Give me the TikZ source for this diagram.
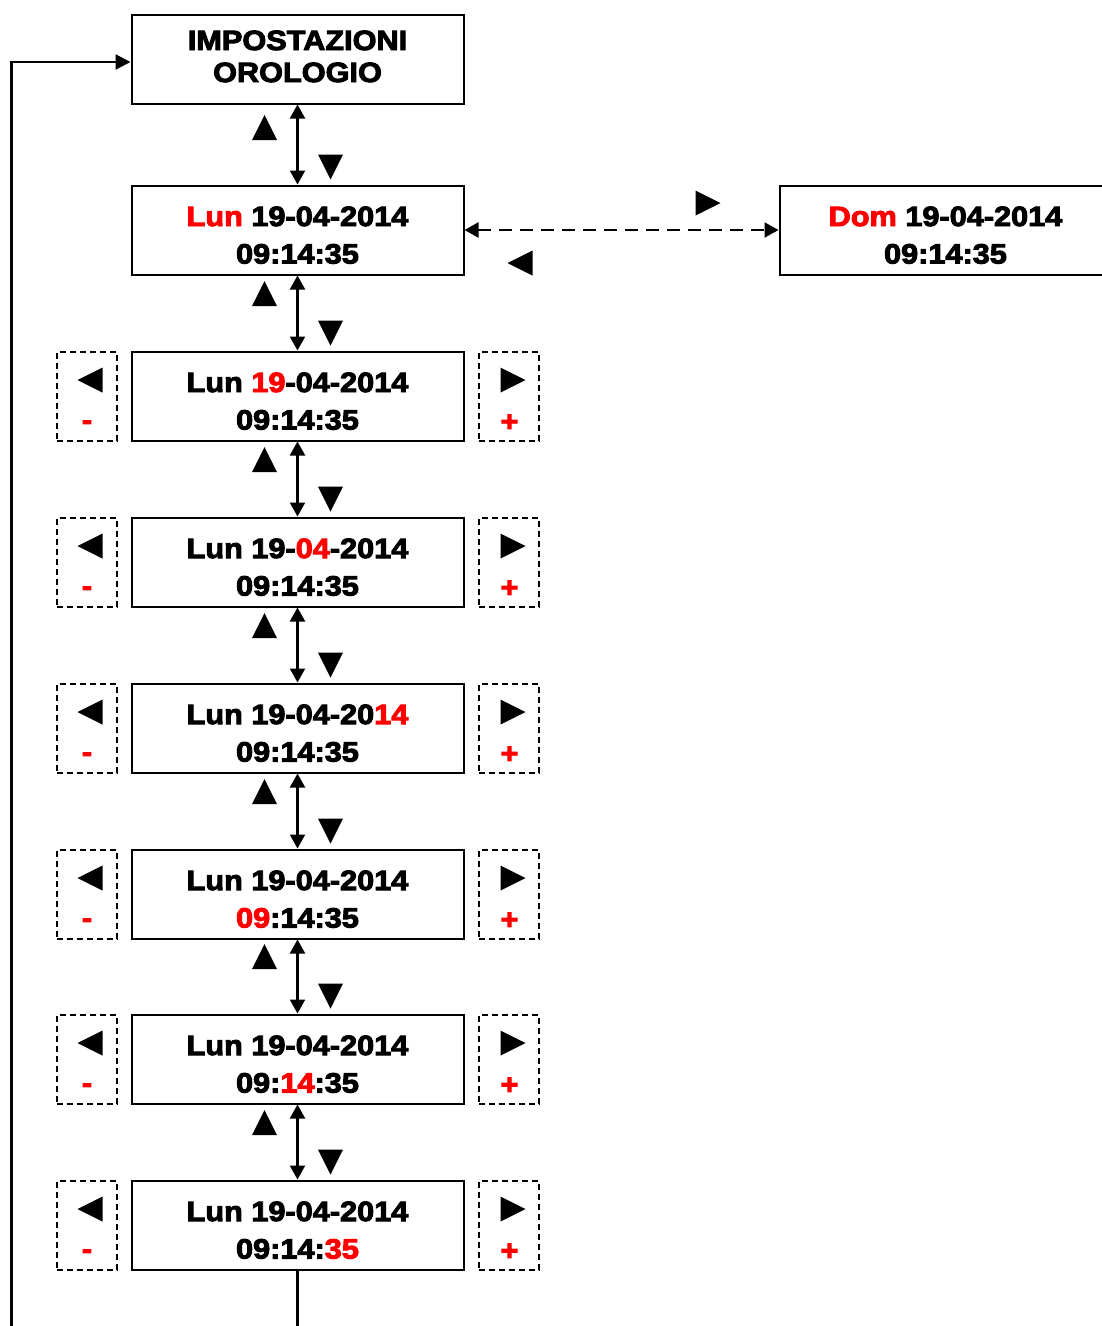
\documentclass[tikz,border=0pt]{standalone}
\usepackage{xcolor}
\usepackage{fontspec}
\usepackage{tikz}
\usetikzlibrary{arrows.meta, calc}
\newfontfamily\lcdfont{Liberation Sans}[FakeStretch=1.1, BoldFeatures={FakeBold=3.5}]
\newcommand\cur[1]{\textcolor{red}{#1}}
\tikzset{
    display/.style = {draw, line width=2pt, minimum width=332pt, minimum height=89pt,
        align=center, text height=70pt, text depth=3pt,
        font=\lcdfont\bfseries\fontsize{27.9}{37.5}\selectfont},
    keybox/.style = {draw, line width=2pt, dash pattern=on 6pt off 4pt,
        minimum width=60pt, minimum height=89pt},
    sign/.style = {text=red, inner sep=0pt, anchor=base,
        font=\lcdfont\bfseries\fontsize{27.9}{30}\selectfont},
    nav/.style = {line width=2.2pt,
        {Triangle[length=14pt,width=15pt]}-{Triangle[length=14pt,width=15pt]}},
    flow/.style = {line width=2.2pt, -{Triangle[length=15pt,width=15pt]}},
    pics/tri/.style = {
        code = {%
        \fill (-12.5,12.5) -- (12.5,12.5) -- (0,-12.5) -- cycle;
        }
    },
    pics/updown/.style = {
        code = {%
        \pic at (-33,-102.5) {tri};
        \pic[rotate=180] at (33,-63) {tri};
        }
    },
    pics/keys/.style = {
        code = {%
        \node[keybox] (-left) at (-211,0) {};
        \node[keybox] (-right) at (211,0) {};
        \pic[rotate=90] at (-207.5,-16) {tri};
        \pic[rotate=-90] at (215.5,-16) {tri};
        \node[sign] (-minus) at (-210.5,33.5) {-};
        \node[sign] (-plus) at (212,35) {+};
        }
    },
}

\begin{document}
\begin{tikzpicture}[x=1pt, y=-1pt]
\useasboundingbox (0,0) rectangle (1102,1326);
\clip (0,0) rectangle (1102,1326);

\node[display, text height=50pt, text depth=4pt, font=\lcdfont\bfseries\fontsize{27.9}{32}\selectfont]
    (menu) at (297.5,59) {IMPOSTAZIONI\\OROLOGIO};

\node[display] (day) at (297.5,230) {\cur{Lun} 19-04-2014\\09:14:35};
\node[display] (dom) at (945.5,230) {\cur{Dom} 19-04-2014\\09:14:35};
\node[display] (dd) at (297.5,396) {Lun \cur{19}-04-2014\\09:14:35};
\node[display] (mm) at (297.5,562) {Lun 19-\cur{04}-2014\\09:14:35};
\node[display] (yy) at (297.5,728) {Lun 19-04-20\cur{14}\\09:14:35};
\node[display] (hh) at (297.5,894) {Lun 19-04-2014\\\cur{09}:14:35};
\node[display] (mi) at (297.5,1059) {Lun 19-04-2014\\09:\cur{14}:35};
\node[display] (ss) at (297.5,1225) {Lun 19-04-2014\\09:14:\cur{35}};

% +/- keys beside each field
\pic (kdd) at (dd) {keys};
\pic (kmm) at (mm) {keys};
\pic (kyy) at (yy) {keys};
\pic (khh) at (hh) {keys};
\pic (kmi) at (mi) {keys};
\pic (kss) at (ss) {keys};

% up/down navigation
\pic at (day) {updown};
\pic at (dd) {updown};
\pic at (mm) {updown};
\pic at (yy) {updown};
\pic at (hh) {updown};
\pic at (mi) {updown};
\pic at (ss) {updown};

\draw[nav] (menu.south) -- (day.north);
\draw[nav] (day.south) -- (dd.north);
\draw[nav] (dd.south) -- (mm.north);
\draw[nav] (mm.south) -- (yy.north);
\draw[nav] (yy.south) -- (hh.north);
\draw[nav] (hh.south) -- (mi.north);
\draw[nav] (mi.south) -- (ss.north);

% day of week
\draw[nav, dash pattern=on 13pt off 8pt] (day.east) -- (dom.west);
\pic[rotate=-90] at (708,203) {tri};
\pic[rotate=90] at (520,263) {tri};

% back to menu
\coordinate (back) at (11.5,1340);
\coordinate (out) at (297.5,1340);
\draw[flow] (back) |- ([yshift=-3pt]menu.west);
\draw[line width=2.2pt] (ss.south) -- (out);

\end{tikzpicture}
\end{document}
